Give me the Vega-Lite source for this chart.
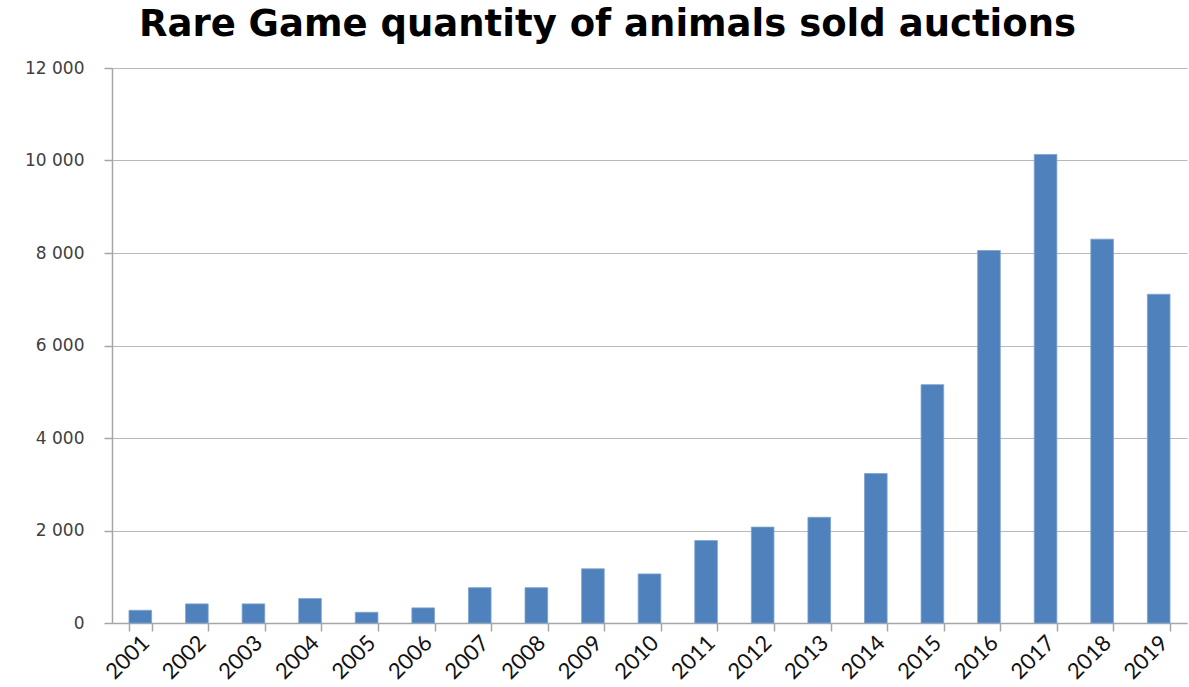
{
  "$schema": "https://vega.github.io/schema/vega-lite/v6.json",
  "width": 1075,
  "height": 555,
  "autosize": {"type": "none"},
  "padding": {"left": 112, "top": 68, "right": 2, "bottom": 64},
  "background": "white",
  "title": {
    "text": "Rare Game quantity of animals sold auctions",
    "font": "DejaVu Sans",
    "fontSize": 37,
    "fontWeight": "bold",
    "color": "#000000",
    "anchor": "middle",
    "dx": -42,
    "offset": 15
  },
  "data": {
    "values": [
      {"year": "2001", "animals": 275},
      {"year": "2002", "animals": 413},
      {"year": "2003", "animals": 413},
      {"year": "2004", "animals": 529},
      {"year": "2005", "animals": 232},
      {"year": "2006", "animals": 327},
      {"year": "2007", "animals": 764},
      {"year": "2008", "animals": 764},
      {"year": "2009", "animals": 1171},
      {"year": "2010", "animals": 1062},
      {"year": "2011", "animals": 1782},
      {"year": "2012", "animals": 2073},
      {"year": "2013", "animals": 2285},
      {"year": "2014", "animals": 3231},
      {"year": "2015", "animals": 5154},
      {"year": "2016", "animals": 8054},
      {"year": "2017", "animals": 10131},
      {"year": "2018", "animals": 8300},
      {"year": "2019", "animals": 7108}
    ]
  },
  "mark": {"type": "bar", "color": "#4f81bd", "stroke": "#7ea3cf", "strokeWidth": 0.8},
  "encoding": {
    "x": {
      "field": "year",
      "type": "nominal",
      "sort": null,
      "title": null,
      "scale": {"paddingInner": 0.6, "paddingOuter": 0.3},
      "axis": {
        "labelAngle": -45,
        "labelAlign": "right",
        "labelBaseline": "middle",
        "labelFont": "Lato",
        "labelFontSize": 22,
        "labelColor": "#111111",
        "labelPadding": 8,
        "labelOffset": 5,
        "tickBand": "extent",
        "tickSize": 8,
        "tickColor": "#a6a6a6",
        "tickWidth": 1.5,
        "domainColor": "#a6a6a6",
        "domainWidth": 1.5,
        "grid": false
      }
    },
    "y": {
      "field": "animals",
      "type": "quantitative",
      "title": null,
      "scale": {"domain": [0, 12000], "nice": false},
      "axis": {
        "values": [0, 2000, 4000, 6000, 8000, 10000, 12000],
        "labelExpr": "replace(format(datum.value, ','), ',', ' ')",
        "labelFont": "DejaVu Sans",
        "labelFontSize": 17,
        "labelColor": "#404040",
        "labelPadding": 20,
        "tickSize": 8,
        "tickColor": "#a6a6a6",
        "tickWidth": 1.5,
        "domainColor": "#a6a6a6",
        "domainWidth": 1.5,
        "grid": true,
        "gridColor": "#b8b8b8",
        "gridWidth": 1.2
      }
    }
  },
  "config": {
    "view": {"stroke": null}
  }
}
